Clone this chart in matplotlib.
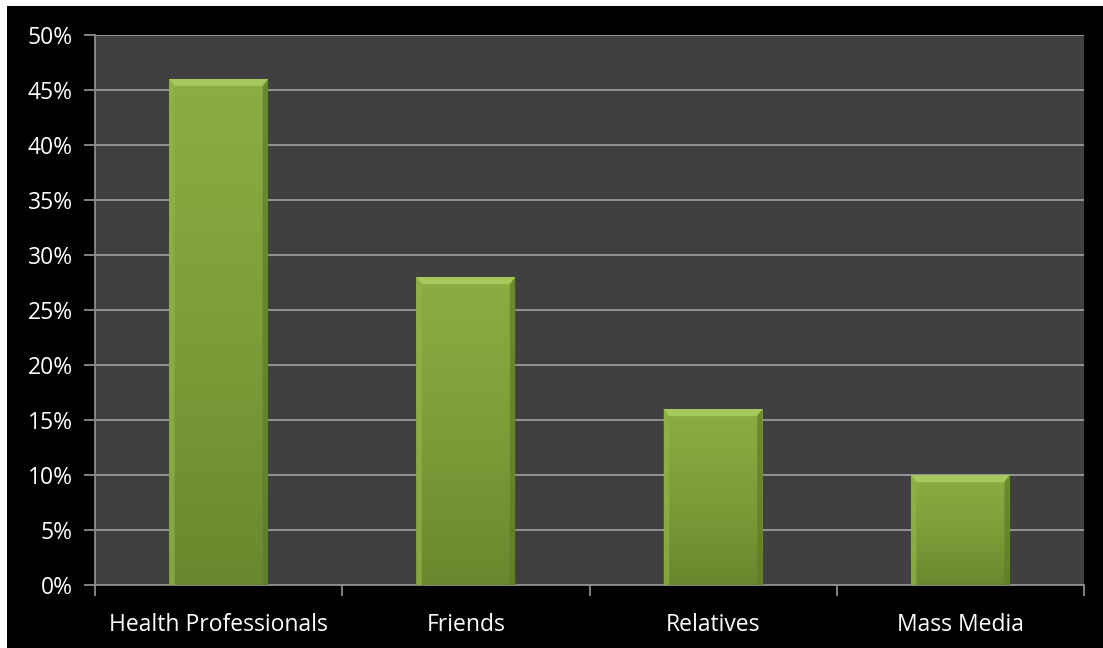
import numpy as np
import matplotlib.pyplot as plt
from matplotlib.patches import Rectangle, Polygon
from matplotlib.colors import LinearSegmentedColormap
from matplotlib.ticker import FuncFormatter

categories = ["Health Professionals", "Friends", "Relatives", "Mass Media"]
values = [0.46, 0.28, 0.16, 0.10]
yticks = [0, 0.05, 0.10, 0.15, 0.20, 0.25, 0.30, 0.35, 0.40, 0.45, 0.50]

W, H = 1103, 648
fig = plt.figure(figsize=(W / 100, H / 100), dpi=100)
fig.patch.set_facecolor("black")
# thin white margin on top and left
fig.patches.append(Rectangle((0, 1 - 6 / H), 1, 6 / H, transform=fig.transFigure,
                             facecolor="white", edgecolor="none"))
fig.patches.append(Rectangle((0, 0), 7 / W, 1, transform=fig.transFigure,
                             facecolor="white", edgecolor="none"))

ax = fig.add_axes([95 / W, (H - 585) / H, (1084 - 95) / W, (585 - 35) / H])
ax.set_facecolor("#404040")

x = np.arange(len(categories))
bar_w = 0.4
bars = ax.bar(x, values, width=bar_w, color="#7e9f3a", zorder=2)

grad = np.linspace(0, 1, 256).reshape(-1, 1)
cmap = LinearSegmentedColormap.from_list("g", ["#68882d", "#7c9e39", "#8aad44"])
bh = 0.0065   # bevel height (data units)
bw = 0.022    # bevel width (data units)
for b in bars:
    x0, w, h = b.get_x(), b.get_width(), b.get_height()
    im = ax.imshow(grad, extent=(x0, x0 + w, 0, h), origin="lower", cmap=cmap,
                   aspect="auto", zorder=3)
    im.set_clip_path(b)
    x1 = x0 + w
    # top bevel (light), left (slightly light), right (dark)
    ax.add_patch(Polygon([(x0, h), (x1, h), (x1 - bw, h - bh), (x0 + bw, h - bh)],
                         closed=True, facecolor="#a6c95d", edgecolor="none", zorder=4))
    ax.add_patch(Polygon([(x0, 0), (x0, h), (x0 + bw, h - bh), (x0 + bw, 0)],
                         closed=True, facecolor="#90b349", edgecolor="none", zorder=4, alpha=0.7))
    ax.add_patch(Polygon([(x1, 0), (x1, h), (x1 - bw, h - bh), (x1 - bw, 0)],
                         closed=True, facecolor="#5d7b27", edgecolor="none", zorder=4, alpha=0.7))

ax.set_xlim(-0.5, len(categories) - 0.5)
ax.set_ylim(0, 0.5)
ax.set_yticks(yticks)
ax.yaxis.set_major_formatter(FuncFormatter(lambda v, p: f"{v * 100:.0f}%"))
ax.set_xticks(x)
ax.set_xticklabels(categories)
ax.set_xticks(np.arange(len(categories) + 1) - 0.5, minor=True)

ax.grid(axis="y", color="#9a9a9a", linewidth=1.3, zorder=1)
ax.set_axisbelow(True)
for s in ["top", "right"]:
    ax.spines[s].set_visible(False)
for s in ["left", "bottom"]:
    ax.spines[s].set_color("#8c8c8c")
    ax.spines[s].set_linewidth(1.3)

font = "Open Sans"
ax.tick_params(axis="y", colors="#8c8c8c", labelcolor="white", length=8, width=1.3,
               labelsize=16.5, pad=8)
ax.tick_params(axis="x", which="major", length=0, labelcolor="white", labelsize=16.5, pad=20)
ax.tick_params(axis="x", which="minor", colors="#8c8c8c", length=8, width=1.3)
for lab in ax.get_xticklabels() + ax.get_yticklabels():
    lab.set_fontfamily(font)

fig.savefig("out.png", dpi=100, facecolor=fig.get_facecolor())
